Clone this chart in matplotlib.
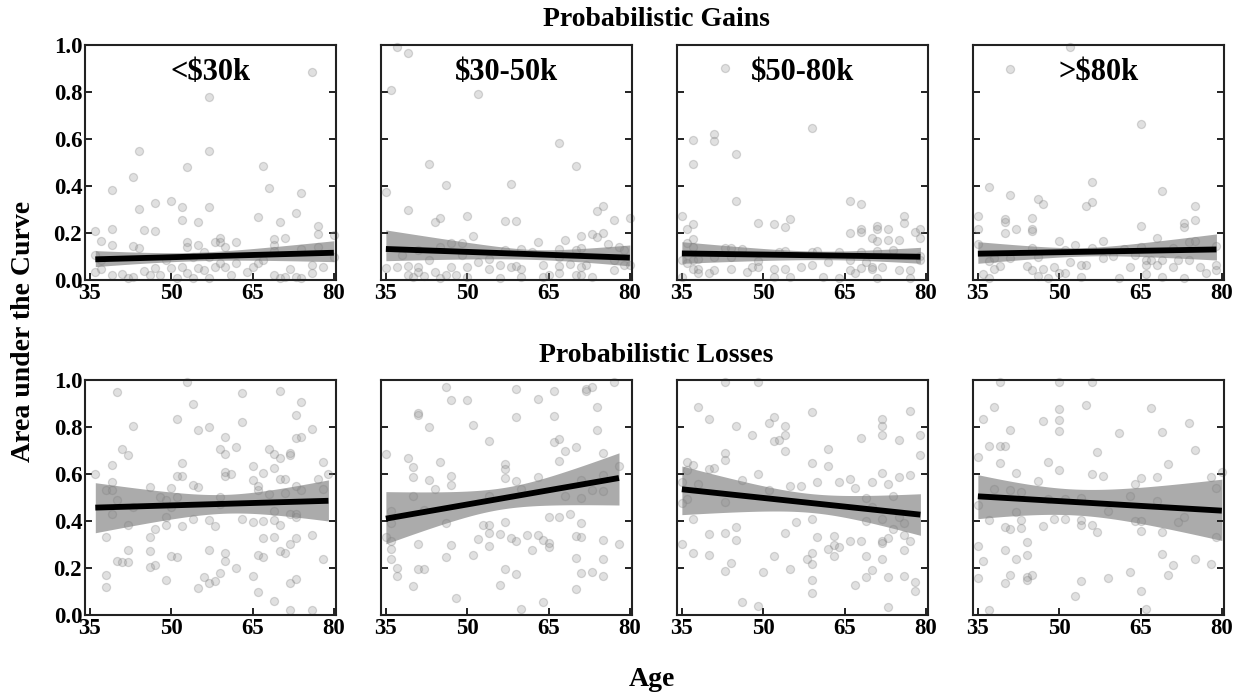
import numpy as np
import matplotlib
matplotlib.use("Agg")
import matplotlib.pyplot as plt

plt.rcParams['font.family'] = ['Liberation Serif', 'DejaVu Serif']
plt.rcParams['font.weight'] = 'bold'

# ---------------- data ----------------
income_labels = [r"<\$30k", r"\$30-50k", r"\$50-80k", r">\$80k"]
row_titles = ["Probabilistic Gains", "Probabilistic Losses"]
x_ticks = [35, 50, 65, 80]
y_ticks = [0.0, 0.2, 0.4, 0.6, 0.8, 1.0]

gains_lt30_age = [76, 57, 57, 44, 53, 43, 67, 68, 74, 39, 44, 47, 50, 52, 57, 52, 55, 66, 70, 73,
                  36, 39, 45, 47, 77, 77, 37, 39, 43, 44, 53, 53, 55, 56, 58, 59, 59, 60, 62, 69,
                  71, 69, 69, 74, 77, 80, 36, 37, 36, 37, 39, 41, 42, 43, 45, 47, 46, 48, 49, 50,
                  51, 52, 53, 54, 55, 56, 57, 58, 59, 60, 61, 64, 65, 66, 67, 69, 70, 71, 72, 73,
                  74, 76, 76, 78, 80, 62, 54, 57]
gains_lt30_auc = [.887, .78, .549, .549, .479, .438, .487, .393, .369, .383, .304, .329, .335, .311,
                  .309, .254, .248, .270, .247, .287, .209, .218, .213, .210, .230, .194, .167, .149,
                  .145, .135, .160, .139, .149, .12, .160, .177, .160, .142, .160, .173, .180, .149,
                  .125, .13, .139, .19, .106, .085, .035, .045, .02, .025, .007, .014, .04, .052,
                  .02, .02, .085, .052, .007, .057, .031, .007, .05, .043, .007, .057, .071, .054,
                  .02, .035, .057, .071, .085, .02, .007, .014, .045, .014, .007, .028, .064, .057,
                  .1, .071, .099, .099]

gains_30_50_age = [37, 39, 36, 52, 67, 43, 70, 46, 58, 35, 39, 75, 74, 50, 45, 44, 57, 59, 77, 80,
                   51, 71, 73, 75, 74, 63, 68, 76, 78, 79, 47, 45, 49, 38, 41, 43, 49, 54, 57, 60,
                   62, 67, 70, 71, 67, 69, 72, 77, 79, 35, 37, 39, 41, 41, 39, 40, 42, 44, 45, 46,
                   47, 48, 50, 50, 52, 54, 56, 56, 58, 59, 60, 60, 64, 64, 65, 67, 67, 70, 71, 71,
                   73, 77, 80]
gains_30_50_auc = [.99, .965, .807, .791, .582, .492, .484, .403, .407, .374, .299, .315, .294, .271,
                   .265, .245, .252, .251, .255, .265, .186, .187, .196, .201, .184, .16, .17, .153,
                   .142, .128, .159, .142, .156, .105, .128, .085, .105, .088, .128, .132, .118, .132,
                   .128, .135, .099, .068, .064, .085, .064, .052, .057, .061, .057, .035, .021, .011,
                   .017, .035, .007, .021, .057, .021, .057, .011, .075, .047, .064, .007, .057, .061,
                   .045, .014, .064, .014, .021, .061, .028, .021, .057, .021, .014, .043, .064]

gains_50_80_age = [43, 59, 41, 41, 37, 37, 45, 45, 66, 68, 35, 36, 37, 49, 52, 54, 55, 66, 68, 68,
                   71, 71, 73, 76, 76, 78, 79, 79, 70, 71, 73, 75, 37, 36, 37, 43, 44, 46, 53, 54,
                   59, 60, 64, 68, 71, 74, 79, 35, 37, 38, 44, 41, 36, 37, 38, 38, 40, 41, 44, 47,
                   48, 49, 49, 52, 54, 55, 57, 59, 62, 61, 64, 66, 66, 67, 68, 69, 70, 70, 72, 71,
                   75, 77, 77, 79, 52, 35]
gains_50_80_auc = [.904, .648, .621, .59, .594, .492, .535, .338, .338, .322, .274, .217, .24, .241,
                   .24, .224, .258, .201, .217, .206, .231, .217, .216, .274, .241, .203, .217, .177,
                   .177, .165, .17, .17, .173, .156, .142, .135, .135, .132, .121, .123, .121, .123,
                   .121, .121, .123, .128, .104, .085, .085, .089, .099, .099, .071, .047, .047, .028,
                   .031, .043, .045, .033, .057, .057, .082, .045, .045, .014, .054, .064, .078, .014,
                   .007, .085, .043, .028, .050, .078, .057, .045, .054, .007, .043, .043, .007, .085,
                   .011, .011]

gains_gt80_age = [52, 41, 65, 56, 37, 41, 69, 46, 47, 56, 55, 75, 75, 35, 40, 40, 45, 45, 45, 40,
                  42, 35, 65, 73, 73, 50, 53, 58, 68, 74, 75, 79, 35, 37, 38, 39, 38, 36, 37, 41,
                  44, 45, 45, 46, 46, 47, 48, 49, 50, 51, 51, 52, 54, 55, 54, 56, 58, 60, 62, 63,
                  64, 65, 66, 66, 67, 68, 69, 66, 69, 71, 72, 74, 76, 77, 79, 79, 73, 71, 61]
gains_gt80_auc = [.99, .9, .664, .417, .397, .363, .377, .345, .323, .33, .315, .316, .254, .274,
                  .26, .248, .262, .218, .209, .201, .218, .218, .23, .241, .227, .167, .149, .166,
                  .177, .16, .167, .146, .152, .081, .095, .061, .047, .024, .007, .095, .061, .043,
                  .135, .099, .017, .045, .007, .057, .031, .028, .128, .078, .064, .064, .014, .135,
                  .092, .102, .13, .054, .106, .142, .085, .064, .085, .064, .085, .024, .014, .054,
                  .085, .085, .057, .031, .064, .043, .007, .135, .007]

losses_lt30_age = [53, 40, 54, 63, 70, 74, 73, 51, 63, 43, 55, 57, 76, 60, 73, 74, 41, 42, 59, 60,
                   62, 68, 69, 70, 72, 72, 39, 52, 65, 69, 78, 36, 52, 51, 60, 60, 61, 67, 65, 70,
                   71, 77, 79, 39, 54, 55, 66, 38, 39, 40, 46, 48, 50, 51, 59, 66, 68, 71, 73, 74,
                   78, 49, 43, 50, 39, 59, 69, 72, 73, 73, 49, 49, 42, 52, 54, 57, 58, 63, 65, 67,
                   69, 70, 47, 38, 46, 67, 69, 73, 72, 76, 42, 46, 57, 60, 70, 71, 66, 67, 50, 51,
                   40, 41, 42, 60, 78, 46, 47, 62, 38, 56, 59, 65, 49, 57, 58, 73, 72, 38, 55, 66,
                   69, 72, 76]
losses_lt30_auc = [.993, .949, .9, .943, .952, .908, .851, .832, .823, .804, .787, .802, .791, .758,
                   .755, .758, .708, .68, .708, .683, .717, .708, .683, .669, .69, .679, .639, .646,
                   .634, .627, .649, .602, .592, .59, .609, .592, .599, .606, .573, .579, .579, .579,
                   .602, .566, .555, .546, .548, .531, .531, .491, .545, .502, .541, .502, .502, .531,
                   .516, .521, .549, .533, .538, .488, .459, .459, .431, .474, .441, .431, .431, .417,
                   .417, .381, .384, .378, .41, .403, .377, .408, .394, .398, .405, .381, .366, .33,
                   .33, .329, .331, .329, .303, .339, .275, .272, .277, .265, .272, .265, .255, .246,
                   .249, .246, .229, .225, .225, .228, .238, .206, .211, .201, .172, .162, .179, .168,
                   .149, .135, .144, .154, .137, .121, .114, .1, .061, .021, .021]

losses_30_50_age = [46, 59, 47, 50, 63, 66, 72, 73, 77, 72, 74, 41, 41, 59, 66, 51, 43, 74, 54, 66,
                    67, 35, 39, 70, 68, 75, 45, 40, 57, 67, 78, 40, 47, 57, 57, 63, 75, 43, 47, 59,
                    71, 44, 60, 73, 75, 40, 54, 68, 71, 42, 36, 36, 46, 53, 54, 57, 65, 67, 69, 71,
                    35, 36, 54, 56, 58, 59, 61, 63, 64, 65, 65, 70, 71, 75, 78, 41, 47, 52, 54, 36,
                    62, 51, 46, 36, 70, 75, 37, 37, 41, 42, 57, 59, 71, 73, 75, 40, 56, 70, 48, 64,
                    60]
losses_30_50_auc = [.972, .962, .913, .913, .919, .953, .962, .972, .99, .953, .886, .861, .851, .844,
                    .848, .808, .798, .788, .741, .735, .747, .684, .67, .714, .7, .691, .653, .63,
                    .642, .656, .634, .587, .592, .62, .585, .587, .597, .573, .555, .569, .576, .536,
                    .538, .531, .528, .506, .505, .505, .496, .448, .444, .391, .391, .383, .384, .394,
                    .415, .415, .431, .391, .331, .317, .349, .346, .327, .313, .339, .341, .32, .307,
                    .289, .336, .331, .321, .302, .303, .297, .323, .292, .282, .276, .257, .246, .238,
                    .243, .238, .199, .168, .196, .196, .196, .176, .178, .181, .168, .124, .129, .112,
                    .071, .054, .026]

losses_50_80_age = [43, 49, 38, 59, 77, 40, 72, 72, 45, 51, 52, 54, 48, 54, 72, 68, 75, 79, 52, 53,
                    54, 62, 43, 43, 79, 36, 37, 59, 62, 40, 41, 36, 49, 72, 75, 77, 35, 38, 46, 60,
                    64, 66, 70, 73, 51, 55, 57, 67, 36, 35, 74, 69, 43, 70, 37, 56, 59, 69, 72, 75,
                    76, 74, 40, 43, 45, 54, 60, 63, 76, 35, 45, 63, 64, 66, 68, 72, 72, 73, 77, 62,
                    76, 37, 40, 52, 59, 58, 63, 69, 72, 59, 44, 43, 50, 55, 70, 76, 69, 73, 59, 78,
                    67, 78, 59, 46, 49, 73]
losses_50_80_auc = [.99, .993, .883, .862, .869, .836, .832, .804, .805, .815, .842, .804, .768, .764,
                    .767, .754, .744, .765, .741, .744, .697, .707, .69, .659, .68, .651, .64, .646,
                    .636, .623, .626, .616, .602, .603, .589, .595, .566, .559, .573, .566, .566, .579,
                    .566, .558, .531, .549, .548, .539, .495, .477, .508, .496, .481, .459, .41, .397,
                    .41, .401, .41, .417, .391, .368, .343, .35, .374, .35, .331, .336, .341, .303,
                    .321, .296, .29, .317, .317, .317, .307, .329, .313, .279, .277, .262, .257, .253,
                    .262, .239, .253, .253, .239, .218, .22, .189, .183, .196, .192, .168, .161, .161,
                    .148, .142, .128, .104, .094, .057, .04, .033]

losses_gt80_age = [39, 50, 56, 55, 38, 50, 67, 36, 47, 50, 74, 41, 50, 61, 69, 37, 39, 40, 57, 75,
                   35, 39, 48, 70, 50, 42, 56, 58, 65, 68, 78, 80, 46, 64, 38, 41, 43, 79, 48, 54,
                   51, 63, 68, 35, 42, 59, 37, 43, 49, 51, 54, 64, 65, 72, 73, 40, 41, 43, 47, 54,
                   56, 57, 65, 69, 79, 44, 35, 40, 44, 69, 36, 42, 71, 75, 78, 41, 45, 44, 44, 63,
                   70, 35, 40, 54, 59, 65, 53, 37, 66]
losses_gt80_auc = [.99, .99, .99, .895, .883, .876, .882, .832, .826, .829, .818, .789, .782, .774,
                   .78, .721, .721, .718, .694, .703, .673, .647, .653, .643, .616, .605, .602, .593,
                   .582, .587, .586, .609, .572, .556, .536, .533, .523, .542, .492, .498, .492, .505,
                   .484, .467, .437, .442, .405, .405, .41, .408, .405, .4, .398, .395, .417, .374,
                   .367, .371, .38, .381, .384, .354, .356, .353, .331, .312, .294, .277, .256, .26,
                   .228, .238, .212, .239, .216, .171, .171, .161, .151, .181, .172, .158, .137, .144,
                   .158, .101, .081, .021, .024]

# fitted regression line (value at youngest / oldest age) and CI band offsets
# (upper: start, narrowest, end; lower: start, narrowest, end)
fit_start = [0.088, 0.132, 0.113, 0.112, 0.457, 0.410, 0.535, 0.505]
fit_end = [0.116, 0.095, 0.099, 0.130, 0.486, 0.583, 0.427, 0.444]
ci_upper = [(0.037, 0.018, 0.051), (0.081, 0.020, 0.054), (0.050, 0.018, 0.040), (0.051, 0.018, 0.066),
            (0.106, 0.040, 0.089), (0.115, 0.045, 0.107), (0.099, 0.040, 0.089), (0.092, 0.055, 0.134)]
ci_lower = [(0.031, 0.018, 0.038), (0.050, 0.022, 0.035), (0.042, 0.018, 0.028), (0.041, 0.018, 0.045),
            (0.107, 0.040, 0.086), (0.107, 0.045, 0.115), (0.108, 0.040, 0.088), (0.095, 0.055, 0.127)]

panels = [
    (gains_lt30_age, gains_lt30_auc), (gains_30_50_age, gains_30_50_auc),
    (gains_50_80_age, gains_50_80_auc), (gains_gt80_age, gains_gt80_auc),
    (losses_lt30_age, losses_lt30_auc), (losses_30_50_age, losses_30_50_auc),
    (losses_50_80_age, losses_50_80_auc), (losses_gt80_age, losses_gt80_auc),
]


def halfwidth(x, xs, xe, hs, hm, he):
    a = max(hs ** 2 - hm ** 2, 1e-8)
    b = max(he ** 2 - hm ** 2, 1e-8)
    r = np.sqrt(a / b)
    xc = (xs + r * xe) / (1 + r)
    k = a / (xc - xs) ** 2
    return np.sqrt(hm ** 2 + k * (x - xc) ** 2)


# ---------------- figure ----------------
W, H = 1245, 696
fig = plt.figure(figsize=(W / 100, H / 100), dpi=100)

col_left = [85, 381, 677, 973]
ax_w = 251
row_top = [45, 380]
ax_h = 235

for i, (ages, aucs) in enumerate(panels):
    r, c = divmod(i, 4)
    ax = fig.add_axes([col_left[c] / W, 1 - (row_top[r] + ax_h) / H, ax_w / W, ax_h / H])
    ages = np.asarray(ages, float)
    aucs = np.asarray(aucs, float)
    xs, xe = ages.min(), ages.max()
    xx = np.linspace(xs, xe, 200)
    line = fit_start[i] + (fit_end[i] - fit_start[i]) * (xx - xs) / (xe - xs)
    up = line + halfwidth(xx, xs, xe, *ci_upper[i])
    lo = line - halfwidth(xx, xs, xe, *ci_lower[i])
    ax.fill_between(xx, lo, up, color='#ababab', linewidth=0, zorder=1)
    ax.scatter(ages, aucs, s=34, c='#909090', alpha=0.28, edgecolors='#7a7a7a',
               linewidths=0.9, zorder=2, clip_on=False)
    ax.plot(xx, line, color='black', lw=4.2, zorder=3, solid_capstyle='butt')

    ax.set_xlim(34.1, 80.4)
    ax.set_ylim(0, 1)
    ax.set_xticks(x_ticks)
    ax.set_yticks(y_ticks)
    ax.tick_params(direction='in', length=5, width=1.4, color='#222222',
                   left=True, right=True, top=False, bottom=True,
                   labelsize=16.5, pad=2)
    ax.set_xticklabels([str(t) for t in x_ticks], fontweight='bold')
    if c == 0:
        ax.set_yticklabels([f"{t:.1f}" for t in y_ticks], fontweight='bold')
    else:
        ax.set_yticklabels([])
    for sp in ax.spines.values():
        sp.set_linewidth(1.5)
        sp.set_color('#222222')
    if r == 0:
        ax.text(0.5, 0.885, income_labels[c], transform=ax.transAxes, ha='center', va='center',
                fontsize=22, fontweight='bold', zorder=5)

fig.text(656 / W, 1 - 19 / H, row_titles[0], ha='center', va='center', fontsize=20, fontweight='bold')
fig.text(656 / W, 1 - 355 / H, row_titles[1], ha='center', va='center', fontsize=20, fontweight='bold')
fig.text(652 / W, 1 - 680 / H, "Age", ha='center', va='center', fontsize=20, fontweight='bold')
fig.text(24 / W, 1 - 331 / H, "Area under the Curve", ha='center', va='center', rotation=90,
         fontsize=20, fontweight='bold')

fig.savefig("out.png", dpi=100)
